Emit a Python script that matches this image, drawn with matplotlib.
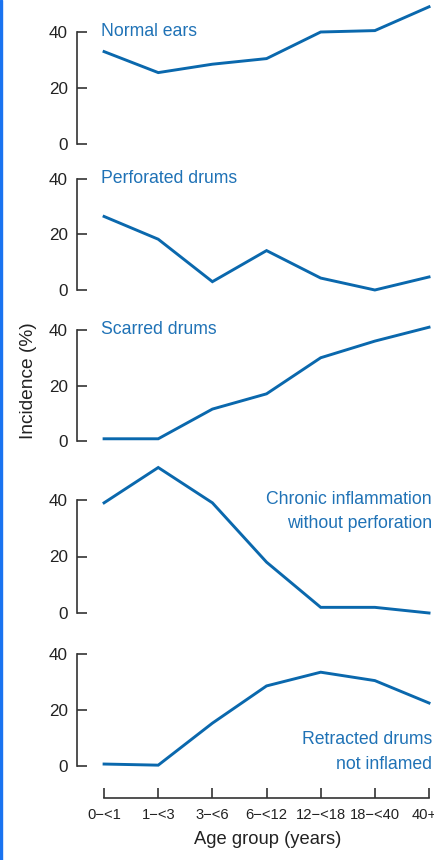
import matplotlib
matplotlib.use('Agg')
import matplotlib.pyplot as plt
from matplotlib.patches import Rectangle
from matplotlib.transforms import ScaledTranslation

plt.rcParams['font.family'] = ['Liberation Sans', 'DejaVu Sans']

# Data (incidence, %)
ages = ['0\u2212<1', '1\u2212<3', '3\u2212<6', '6\u2212<12', '12\u2212<18', '18\u2212<40', '40+']
normal = [33, 25.5, 28.5, 30.5, 40, 40.5, 49]
perforated = [26.5, 18.3, 3, 14.2, 4.3, 0, 4.7]
scarred = [0.8, 0.8, 11.5, 17, 30, 36, 41]
chronic = [39, 51.5, 39, 18, 2, 2, 0]
retracted = [0.7, 0.3, 15.3, 28.6, 33.5, 30.5, 22.5]

series = [normal, perforated, scarred, chronic, retracted]
names = ['Normal ears', 'Perforated drums', 'Scarred drums',
         'Chronic inflammation\nwithout perforation',
         'Retracted drums\nnot inflamed']

line_col = '#0a68ad'
text_col = '#1f72b6'
axis_col = '#333333'

W, H = 435, 860
fig = plt.figure(figsize=(W / 100, H / 100), dpi=100)

# pixel rows of the 0 and 40 ticks for each panel
rows = [(144, 32), (290, 179), (441, 330), (613, 500), (766, 654)]
left_px, right_px = 77, 432
x = list(range(len(ages)))

axes = []
for i, (y0, y40) in enumerate(rows):
    ax = fig.add_axes([left_px / W, 1 - y0 / H, (right_px - left_px) / W, (y0 - y40) / H])
    ax.plot(x, series[i], color=line_col, lw=2.1, clip_on=False, solid_joinstyle='miter')
    ax.set_ylim(0, 40)
    ax.set_xlim(-0.5, 6.055)
    ax.set_yticks([0, 20, 40])
    for s in ['top', 'right']:
        ax.spines[s].set_visible(False)
    ax.spines['left'].set_bounds(0, 40)
    ax.spines['left'].set_color(axis_col)
    ax.spines['left'].set_linewidth(1.2)
    ax.tick_params(axis='y', direction='in', length=7.2, width=1.2, color=axis_col,
                   labelsize=12.3, labelcolor='#222222', pad=6.5)
    ax.patch.set_visible(False)
    if i < 4:
        ax.spines['bottom'].set_visible(False)
        ax.set_xticks([])
    axes.append(ax)

# panel captions
cap = dict(color=text_col, fontsize=12.7)
axes[0].text(-0.05, 40, names[0], ha='left', va='center', **cap)
axes[1].text(-0.05, 40, names[1], ha='left', va='center', **cap)
axes[2].text(-0.05, 40, names[2], ha='left', va='center', **cap)
axes[3].text(6.055, 35.9, names[3], ha='right', va='center', linespacing=1.55, **cap)
axes[4].text(6.055, 5.0, names[4], ha='right', va='center', linespacing=1.55, **cap)

# shared x axis on the bottom panel
ax = axes[4]
ax.spines['bottom'].set_position(('data', -11.4))
ax.spines['bottom'].set_bounds(0, 6)
ax.spines['bottom'].set_color(axis_col)
ax.spines['bottom'].set_linewidth(1.2)
ax.set_xticks(x)
ax.set_xticklabels(ages)
ax.tick_params(axis='x', direction='in', length=7.2, width=1.2, color=axis_col,
               labelsize=10.6, labelcolor='#222222', pad=7)
last = ax.get_xticklabels()[-1]
last.set_transform(last.get_transform() + ScaledTranslation(-5 / 100, 0, fig.dpi_scale_trans))

fig.text(29 / W, 1 - 381 / H, 'Incidence (%)', rotation=90, ha='center', va='center',
         fontsize=13.8, color='#222222')
fig.text(268 / W, 1 - 840 / H, 'Age group (years)', ha='center', va='center',
         fontsize=13.2, color='#222222')

# thin blue frame edge on the left
fig.patches.append(Rectangle((0, 0), 2 / W, 1, transform=fig.transFigure,
                             color='#1a73f0', zorder=10))

fig.savefig('out.png', dpi=100)
